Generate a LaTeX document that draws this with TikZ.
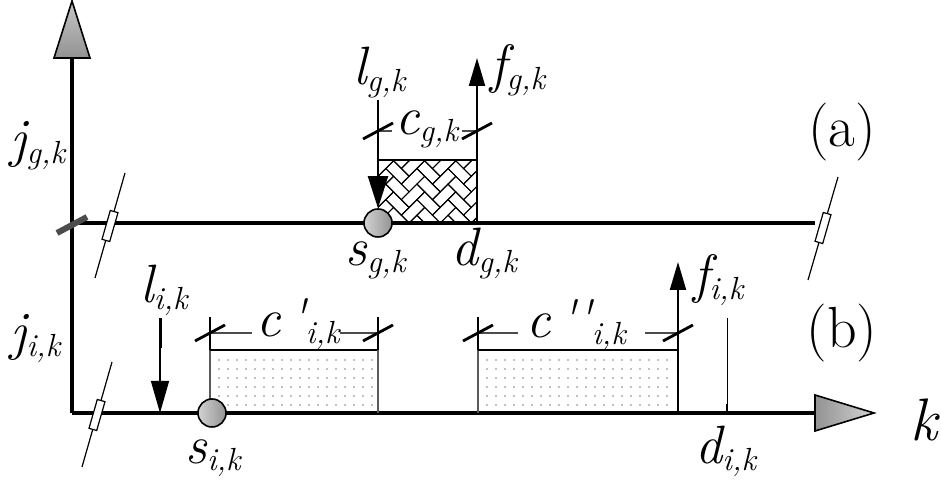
\documentclass[tikz,border=0pt]{standalone}
\usetikzlibrary{arrows.meta}
\newcommand\symb[2]{{\fontsize{27}{27}\selectfont\itshape #1}{\fontsize{16}{16}\selectfont\itshape\raisebox{-0.2em}{#2}}}
\newcommand\slashmark[1]{\draw[tickmark] (#1) ++(-15,-8) -- ++(30,16);}
\tikzset{
  axis/.style={line width=1.7pt},
  ball/.style={circle,draw,line width=0.8pt,minimum size=14pt,inner sep=0pt,left color=gray!35,right color=gray!85},
  brk/.style={rectangle,draw,fill=white,line width=0.6pt,minimum width=15pt,minimum height=4pt,inner sep=0pt,rotate=74},
  brkline/.style={line width=0.6pt},
  edge/.style={line width=1pt},
  thinedge/.style={line width=0.6pt,gray!70!black},
  dimline/.style={line width=0.7pt,gray!60!black},
  tickmark/.style={line width=1.4pt},
  uparrow/.style={line width=1pt,-{Triangle[length=14pt,width=8pt]}},
  lab/.style={anchor=base west,inner sep=0pt},
}
\begin{document}
\begin{tikzpicture}[x=0.5pt,y=0.5pt]
\useasboundingbox (0,0) rectangle (941,480);
% herringbone fill of (a)
\begin{scope}
\clip (378,257) rectangle (477,320);
\begin{scope}[shift={(378,257)},rotate=45,x=5.5pt,y=5.5pt,line width=0.5pt]
\foreach \a in {-3,...,7}
  \foreach \b in {-3,...,5}
  {\draw ({\a+2*\b},{\a-2*\b}) rectangle ++(2,1);
   \draw ({\a+2*\b+2},{\a-2*\b-1}) rectangle ++(1,2);}
\end{scope}
\end{scope}
% dotted fills of (b)
\foreach \x in {219,228,...,372}
  \foreach \y in {75,84,...,125}
  \fill[gray] (\x,\y) circle (0.45pt);
\foreach \x in {487,496,...,672}
  \foreach \y in {75,84,...,125}
  \fill[gray] (\x,\y) circle (0.45pt);
% axes
\coordinate (O) at (72,67);
\coordinate (ytip) at (72,422);
\coordinate (xtip) at (815,67);
\coordinate (ga) at (72,257);
\coordinate (gb) at (815,257);
\draw[axis] (O) -- (ytip);
\draw[axis] (O) -- (xtip);
\draw[axis] (ga) -- (gb);
\shade[draw,line width=0.8pt,top color=gray!45,bottom color=gray!85] (54,422) -- (90,422) -- (72,479) -- cycle;
\shade[draw,line width=0.8pt,left color=gray!85,right color=gray!35] (815,85) -- (815,49) -- (874,67) -- cycle;
\draw[line width=3pt,black!70] (57,247) -- (87,263);
% breaks
\draw[brkline] (125,307) -- (95,202);
\node[brk] (brkga) at (110,254) {};
\draw[brkline] (112,118) -- (82,13);
\node[brk] (brki) at (97,65) {};
\draw[brkline] (838,303) -- (808,200);
\node[brk] (brkgb) at (823,252) {};
% (a)
\draw[edge] (378,320) -- (477,320);
\coordinate (dg) at (477,257);
\coordinate (fgtip) at (477,422);
\draw[uparrow] (dg) -- (fgtip);
\draw[dimline] (378,349) -- (392,349) (462,349) -- (477,349);
\slashmark{378,349}
\slashmark{477,349}
\node[ball] (sg) at (378,257) {};
\coordinate (lgtop) at (378,380);
\draw[edge,-{Triangle[length=16pt,width=10pt]}] (lgtop) -- (sg.north);
% (b)
\draw[thinedge] (210,67) -- (210,130);
\draw[edge] (210,130) -- (378,130);
\draw[line width=1pt,gray!70!black] (378,130) -- (378,67);
\draw[thinedge] (478,67) -- (478,130);
\draw[edge] (478,130) -- (678,130);
\coordinate (di) at (678,67);
\coordinate (fitip) at (678,218);
\draw[uparrow] (di) -- (fitip);
\draw[edge] (210,130) -- (210,163) (378,130) -- (378,163) (478,130) -- (478,163);
\draw[dimline] (210,147) -- (252,147) (340,147) -- (378,147)
               (478,147) -- (518,147) (645,147) -- (678,147);
\slashmark{210,147}
\slashmark{378,147}
\slashmark{478,147}
\slashmark{678,147}
\draw[line width=0.5pt] (727,162) -- (727,67);
\draw[line width=1.2pt] (727,67) -- (727,76);
\coordinate (litop) at (160,162);
\coordinate (limid) at (160,132);
\coordinate (libot) at (160,67);
\draw[line width=1.5pt] (litop) -- (limid);
\draw[line width=0.6pt,-{Triangle[length=16pt,width=9pt]}] (limid) -- (libot);
\node[ball] (si) at (212,67) {};
% labels
\node[lab] (lg) at (353,395) {\symb{l}{g,k}};
\node[lab] (fg) at (490,397) {\symb{f}{g,k}};
\node[lab] (cg) at (395,345) {\symb{c}{g,k}};
\node[lab] (sgl) at (345,214) {\symb{s}{g,k}};
\node[lab] (dgl) at (451,214) {\symb{d}{g,k}};
\node[lab] (jg) at (10,323) {\symb{j}{g,k}};
\node[lab] (ji) at (10,130) {\symb{j}{i,k}};
\node[lab] (li) at (140,177) {\symb{l}{i,k}};
\node[lab] (ci1) at (256,143) {\symb{c\,\textquotesingle}{i,k}};
\node[lab] (ci2) at (526,142) {\symb{c\,\textquotesingle\textquotesingle}{i,k}};
\node[lab] (fi) at (693,187) {\symb{f}{i,k}};
\node[lab] (sil) at (185,16) {\symb{s}{i,k}};
\node[lab] (dil) at (695,16) {\symb{d}{i,k}};
\node (a) at (842,348) {\fontsize{29}{29}\selectfont (a)};
\node (b) at (842,147) {\fontsize{29}{29}\selectfont (b)};
\node (kl) at (924,60) {\fontsize{30}{30}\selectfont\itshape k};
\end{tikzpicture}
\end{document}
